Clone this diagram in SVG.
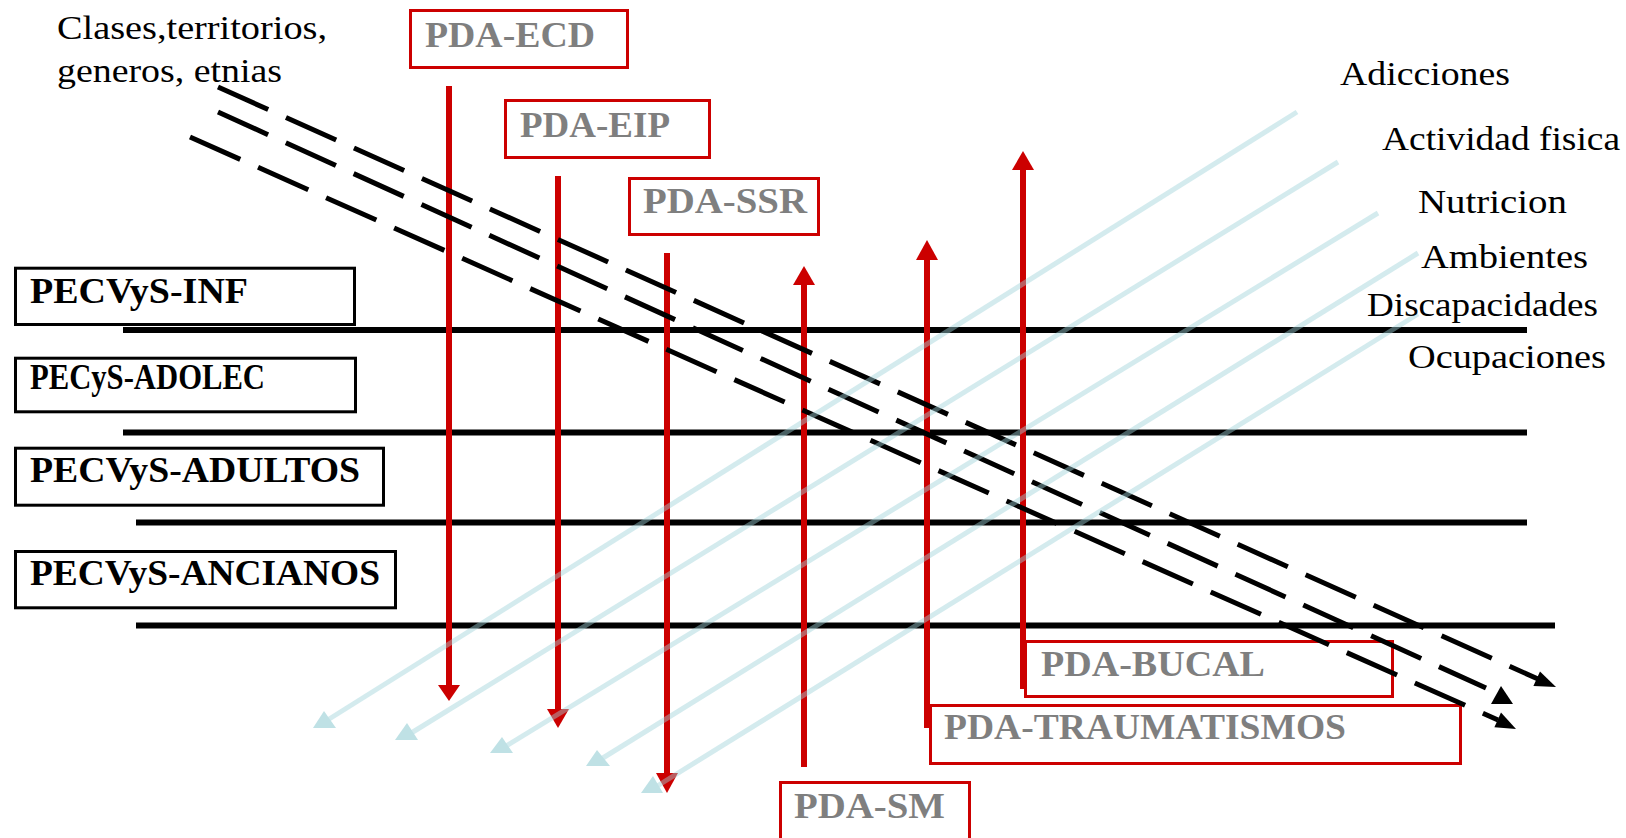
<svg xmlns="http://www.w3.org/2000/svg" width="1626" height="838" viewBox="0 0 1626 838">
  <style>
    .lbl { font-family: "Liberation Serif", "Times New Roman", serif; fill: #000; font-size: 33px; }
    .grp { font-family: "Liberation Serif", "Times New Roman", serif; fill: #000; font-weight: bold; font-size: 35px; }
    .pda { font-family: "Liberation Serif", "Times New Roman", serif; fill: #7f7f7f; font-weight: bold; font-size: 36px; }
    .gbox { fill: #fff; stroke: #000; stroke-width: 3; }
    .pbox { fill: #fff; stroke: #cc0000; stroke-width: 3; }
    .band { stroke: #000; stroke-width: 6; fill: none; }
    .prog { stroke: #cc0000; stroke-width: 6; fill: none; }
    .prog-head { fill: #cc0000; }
    .axis { stroke: #000; stroke-width: 5; fill: none; stroke-dasharray: 55 19.5; }
    .axis-head { fill: #000; }
    .topic { stroke: #9fd3d9; stroke-opacity: 0.45; stroke-width: 5; fill: none; }
    .topic-head { fill: #bfe1e5; }
  </style>

  <rect width="1626" height="838" fill="#fff"/>

  <!-- population bands -->
  <g id="bands">
    <line class="band" x1="123" y1="330" x2="1527" y2="330"/>
    <line class="band" x1="123" y1="432.5" x2="1527" y2="432.5"/>
    <line class="band" x1="136" y1="522.5" x2="1527" y2="522.5"/>
    <line class="band" x1="136" y1="625.5" x2="1555" y2="625.5"/>
  </g>

  <!-- population groups -->
  <g id="grp-inf">
    <rect class="gbox" x="15.5" y="268.2" width="339" height="56.3"/>
    <text class="grp" x="30" y="303" font-size="36" textLength="218" lengthAdjust="spacingAndGlyphs">PECVyS-INF</text>
  </g>
  <g id="grp-adolec">
    <rect class="gbox" x="15.5" y="358.2" width="340" height="53.6"/>
    <text class="grp" x="30" y="389" font-size="30" textLength="235" lengthAdjust="spacingAndGlyphs">PECyS-ADOLEC</text>
  </g>
  <g id="grp-adultos">
    <rect class="gbox" x="15.5" y="448.2" width="368" height="57"/>
    <text class="grp" x="30" y="482" textLength="330" lengthAdjust="spacingAndGlyphs">PECVyS-ADULTOS</text>
  </g>
  <g id="grp-ancianos">
    <rect class="gbox" x="15.5" y="551.5" width="380" height="56.3"/>
    <text class="grp" x="30" y="585" textLength="350" lengthAdjust="spacingAndGlyphs">PECVyS-ANCIANOS</text>
  </g>

  <!-- programme boxes -->
  <g id="pda-ecd">
    <rect class="pbox" x="410.5" y="10.5" width="217" height="57"/>
    <text class="pda" x="425" y="47" textLength="170" lengthAdjust="spacingAndGlyphs">PDA-ECD</text>
  </g>
  <g id="pda-eip">
    <rect class="pbox" x="505.5" y="100.5" width="204" height="57"/>
    <text class="pda" x="520" y="137" textLength="150" lengthAdjust="spacingAndGlyphs">PDA-EIP</text>
  </g>
  <g id="pda-ssr">
    <rect class="pbox" x="629.5" y="178.5" width="189" height="56"/>
    <text class="pda" x="643" y="213" textLength="164" lengthAdjust="spacingAndGlyphs">PDA-SSR</text>
  </g>
  <g id="pda-bucal">
    <rect class="pbox" x="1025.5" y="641.5" width="367" height="55"/>
    <text class="pda" x="1041" y="676" textLength="224" lengthAdjust="spacingAndGlyphs">PDA-BUCAL</text>
  </g>
  <g id="pda-traumatismos">
    <rect class="pbox" x="930.5" y="705.5" width="530" height="58"/>
    <text class="pda" x="944" y="739" textLength="402" lengthAdjust="spacingAndGlyphs">PDA-TRAUMATISMOS</text>
  </g>
  <g id="pda-sm">
    <rect class="pbox" x="780.5" y="782.5" width="189" height="70"/>
    <text class="pda" x="794" y="818" textLength="151" lengthAdjust="spacingAndGlyphs">PDA-SM</text>
  </g>

  <g id="connectors">
    <!-- programme arrows -->
    <g id="prog-arrows">
      <line class="prog" x1="449" y1="86" x2="449" y2="687"/>
      <polygon class="prog-head" points="438,685 460,685 449,701"/>
      <line class="prog" x1="558" y1="176" x2="558" y2="711"/>
      <polygon class="prog-head" points="547,709 569,709 558,728"/>
      <line class="prog" x1="667" y1="253" x2="667" y2="775"/>
      <polygon class="prog-head" points="656,773 678,773 667,793"/>
      <line class="prog" x1="804" y1="767" x2="804" y2="283"/>
      <polygon class="prog-head" points="793,285 815,285 804,266"/>
      <line class="prog" x1="927" y1="728" x2="927" y2="258"/>
      <polygon class="prog-head" points="916,260 938,260 927,240"/>
      <line class="prog" x1="1023" y1="689" x2="1023" y2="168"/>
      <polygon class="prog-head" points="1012,170 1034,170 1023,151"/>
    </g>

    <!-- cross-cutting axes (dashed) -->
    <g id="axes">
      <line class="axis" x1="218" y1="87" x2="1538" y2="679"/>
      <polygon class="axis-head" points="1556,687 1540,671.5 1533.4,686.1"/>
      <line class="axis" x1="218" y1="112" x2="1486" y2="688"/>
      <polygon class="axis-head" points="1491,704 1513,704 1501,686"/>
      <line class="axis" x1="190" y1="137" x2="1498" y2="720"/>
      <polygon class="axis-head" points="1516,729 1501,712.6 1494.4,727.2"/>
    </g>

    <!-- thematic lines -->
    <g id="topics">
      <line class="topic" x1="1297" y1="112" x2="326" y2="721"/>
      <polygon class="topic-head" points="313,728 336,728 324,711"/>
      <line class="topic" x1="1338" y1="162" x2="408" y2="735"/>
      <polygon class="topic-head" points="395,740 418,740 407,723"/>
      <line class="topic" x1="1378" y1="213" x2="503" y2="748"/>
      <polygon class="topic-head" points="490,753 513,753 502,737"/>
      <line class="topic" x1="1418" y1="253" x2="598" y2="761"/>
      <polygon class="topic-head" points="586,766 610,766 597,750"/>
      <line class="topic" x1="1418" y1="314" x2="654" y2="788"/>
      <polygon class="topic-head" points="641,793 663,793 653,776"/>
    </g>
  </g>

  <!-- axis caption -->
  <g id="caption-axes">
    <text class="lbl" x="57" y="39" font-size="32" textLength="270" lengthAdjust="spacingAndGlyphs">Clases,territorios,</text>
    <text class="lbl" x="57" y="82" font-size="32" textLength="225" lengthAdjust="spacingAndGlyphs">generos, etnias</text>
  </g>

  <!-- topic captions -->
  <g id="topic-adicciones"><text class="lbl" x="1340" y="85" textLength="170" lengthAdjust="spacingAndGlyphs">Adicciones</text></g>
  <g id="topic-actividad"><text class="lbl" x="1382" y="150" textLength="238" lengthAdjust="spacingAndGlyphs">Actividad fisica</text></g>
  <g id="topic-nutricion"><text class="lbl" x="1418" y="213" textLength="149" lengthAdjust="spacingAndGlyphs">Nutricion</text></g>
  <g id="topic-ambientes"><text class="lbl" x="1421" y="268" textLength="167" lengthAdjust="spacingAndGlyphs">Ambientes</text></g>
  <g id="topic-discapacidades"><text class="lbl" x="1367" y="316" textLength="231" lengthAdjust="spacingAndGlyphs">Discapacidades</text></g>
  <g id="topic-ocupaciones"><text class="lbl" x="1408" y="368" textLength="198" lengthAdjust="spacingAndGlyphs">Ocupaciones</text></g>
</svg>
